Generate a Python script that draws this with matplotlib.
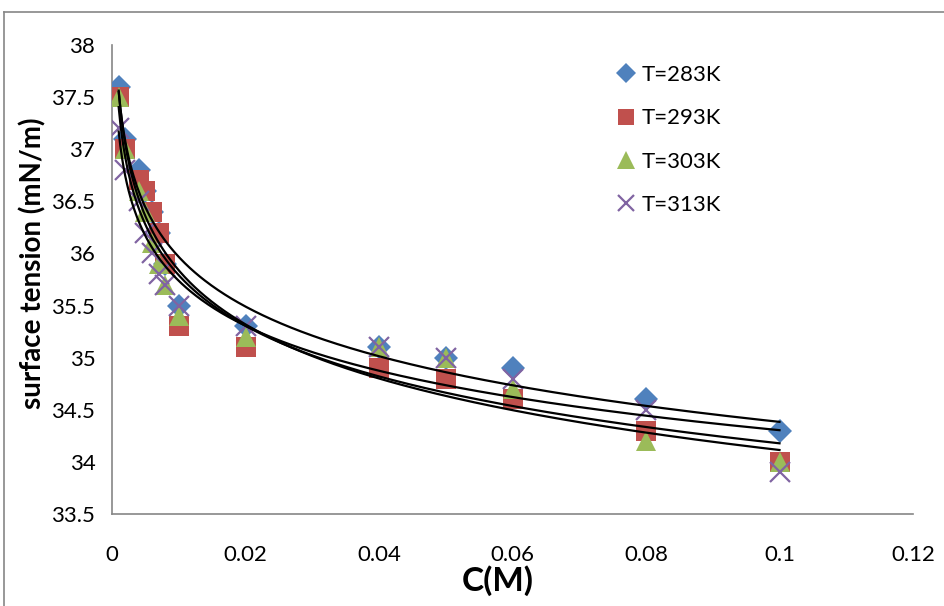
import numpy as np
import matplotlib
matplotlib.use('Agg')
import matplotlib.pyplot as plt
from matplotlib.lines import Line2D

plt.rcParams['font.family'] = ['Lato', 'DejaVu Sans']

# concentration (M)
conc = [0.001, 0.002, 0.004, 0.005, 0.006, 0.007, 0.008, 0.01,
        0.02, 0.04, 0.05, 0.06, 0.08, 0.1]

# surface tension (mN/m) per temperature
st_283 = [37.6, 37.1, 36.8, 36.6, 36.4, 36.2, 35.9, 35.5,
          35.3, 35.1, 35.0, 34.9, 34.6, 34.3]
st_293 = [37.5, 37.0, 36.7, 36.6, 36.4, 36.2, 35.9, 35.3,
          35.1, 34.9, 34.8, 34.6, 34.3, 34.0]
st_303 = [37.5, 37.0, 36.6, 36.4, 36.1, 35.9, 35.7, 35.4,
          35.2, 35.1, 35.0, 34.7, 34.2, 34.0]
st_313 = [37.2, 36.8, 36.5, 36.2, 36.0, 35.8, 35.7, 35.5,
          35.3, 35.1, 35.0, 34.8, 34.5, 33.9]

labels = ['T=283K', 'T=293K', 'T=303K', 'T=313K']
series = [st_283, st_293, st_303, st_313]
colors = ['#4F81BD', '#C0504D', '#9BBB59', '#8064A2']
markers = ['D', 's', '^', 'x']
msizes = [12, 14, 15, 14]

fig = plt.figure(figsize=(9.44, 6.06), dpi=100)
ax = fig.add_axes([112 / 944, 1 - 514 / 606, (913 - 112) / 944, (514 - 45) / 606])

c = np.array(conc)
for y, col, m, ms, lab in zip(series, colors, markers, msizes, labels):
    if m == 'x':
        ax.plot(c, y, linestyle='none', marker=m, color=col, markersize=ms,
                markeredgewidth=1.6, label=lab, zorder=3)
    else:
        ax.plot(c, y, linestyle='none', marker=m, color=col, markersize=ms,
                markeredgewidth=0, label=lab, zorder=3)

# logarithmic trendlines
xs = np.linspace(c.min(), c.max(), 400)
for y in series:
    a, b = np.polyfit(np.log(c), np.array(y), 1)
    ax.plot(xs, a * np.log(xs) + b, color='black', lw=1.6, zorder=4)

ax.set_xlim(0, 0.12)
ax.set_ylim(33.5, 38)
ax.set_xticks([0, 0.02, 0.04, 0.06, 0.08, 0.1, 0.12])
ax.set_xticklabels(['0', '0.02', '0.04', '0.06', '0.08', '0.1', '0.12'])
ax.set_yticks(np.arange(33.5, 38.01, 0.5))
ax.set_yticklabels(['33.5', '34', '34.5', '35', '35.5', '36', '36.5', '37', '37.5', '38'])
ax.tick_params(length=0, labelsize=16)
ax.tick_params(axis='x', pad=22)
ax.tick_params(axis='y', pad=12)
for s in ['top', 'right']:
    ax.spines[s].set_visible(False)
for s in ['left', 'bottom']:
    ax.spines[s].set_color('#868686')
    ax.spines[s].set_linewidth(1.2)

ax.set_xlabel('C(M)', fontsize=24, fontweight='bold')
ax.xaxis.set_label_coords(0.482, -0.11)
ax.set_ylabel('surface tension (mN/m)', fontsize=20, fontweight='bold')
ax.yaxis.set_label_coords(-0.082, 0.535)

leg = ax.legend(loc='upper left', bbox_to_anchor=(0.6, 1.0), frameon=False,
                fontsize=16, handletextpad=0.1, labelspacing=1.05,
                handlelength=1.2, markerscale=0.85)

# outer chart border
fig.add_artist(Line2D([4 / 944, 4 / 944], [0, 1 - 12 / 606], color='#868686', lw=1.2))
fig.add_artist(Line2D([4 / 944, 1], [1 - 12 / 606, 1 - 12 / 606], color='#868686', lw=1.2))

fig.savefig('out.png', dpi=100)
